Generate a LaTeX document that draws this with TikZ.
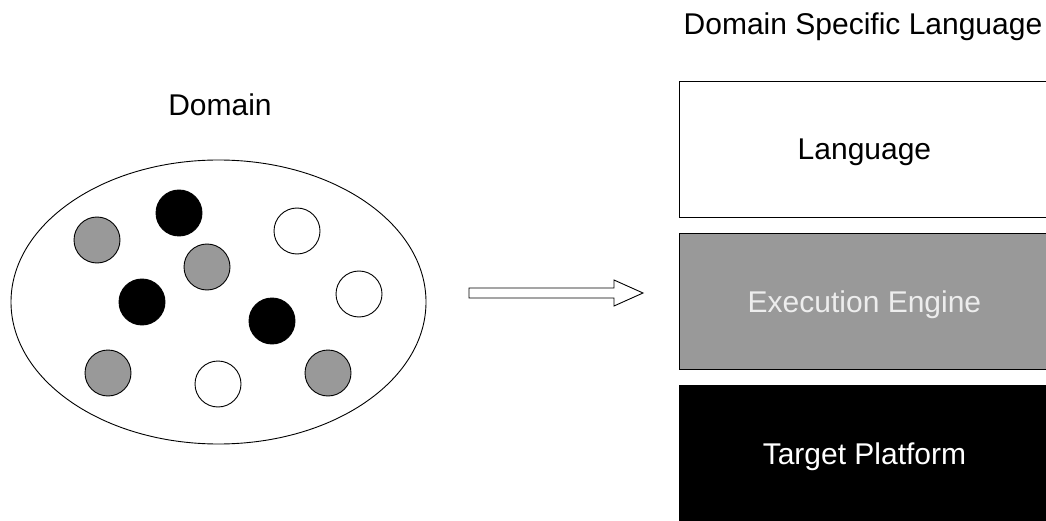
\documentclass[tikz,border=0pt]{standalone}
\usepackage{fontspec}
\setmainfont{Liberation Sans}
\usetikzlibrary{calc,shapes.geometric}

\begin{document}
\begin{tikzpicture}[x=1pt, y=-1pt, line width=0.9pt, font=\fontsize{30}{36}\selectfont]
        \tikzstyle{every node}=[inner sep=0pt, text depth=0pt]
        \tikzstyle{dot}=[draw, circle, minimum size=46pt]
        \tikzstyle{layer}=[draw, rectangle, minimum width=370pt, minimum height=136pt, anchor=north west]

        \useasboundingbox (0,0) rectangle (1046,521);

% the domain and its elements
        \node (domaintitle) at (220,105) {Domain};
        \node[draw, ellipse, minimum width=415pt, minimum height=284pt] (domain) at (218.5,302) {};

        \node[dot, fill=gray!80] (g1) at (97,240) {};
        \node[dot, fill=black] (b1) at (179,213) {};
        \node[dot, fill=white] (w1) at (297,231) {};
        \node[dot, fill=gray!80] (g2) at (207,267) {};
        \node[dot, fill=black] (b2) at (142,302) {};
        \node[dot, fill=white] (w2) at (359,294) {};
        \node[dot, fill=black] (b3) at (272,321) {};
        \node[dot, fill=gray!80] (g3) at (108,373) {};
        \node[dot, fill=white] (w3) at (218,384) {};
        \node[dot, fill=gray!80] (g4) at (328,373) {};

% block arrow from the domain to the language stack
        \coordinate (from) at (469,293);
        \coordinate (to) at (643,293);
        \draw[fill=white] ($(from)+(0,-5)$) -- ($(to)+(-29,-5)$) -- ($(to)+(-29,-13)$) -- (to)
            -- ($(to)+(-29,13)$) -- ($(to)+(-29,5)$) -- ($(from)+(0,5)$) -- cycle;

% the three layers of the DSL
        \node (dsltitle) at (863,24) {Domain Specific Language};
        \node[layer, fill=white] (lang) at (679,81) {Language};
        \node[layer, fill=gray!80, text=black!7] (engine) at (679,233) {Execution Engine};
        \node[layer, fill=black, text=white] (platform) at (679,385) {Target Platform};

    \end{tikzpicture}
\end{document}
